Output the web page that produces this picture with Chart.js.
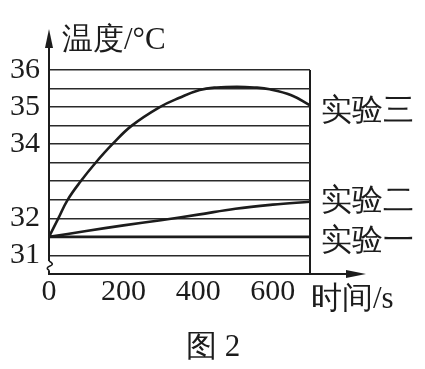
<!DOCTYPE html>
<html>
<head>
<meta charset="utf-8">
<script src="https://cdn.jsdelivr.net/npm/chart.js@4.4.1/dist/chart.umd.min.js"></script>
<style>
  html, body { margin: 0; padding: 0; background: #fff; }
  #fontPrime { position: absolute; left: -999px; top: 0; font: 30px "Liberation Serif", serif; }
</style>
</head>
<body>
<div id="fontPrime">36 200 温度/°C 实验</div>
<canvas id="tempChart" width="425" height="369"></canvas>
<script>
// 实验三: 先快速升温，约 500 s 达到最高，然后回落
const time3 = [0, 25, 50, 85, 125, 170, 222, 297, 350, 404, 450, 504, 550, 592, 650, 700];
const temp3 = [31.5, 32, 32.5, 33, 33.5, 34, 34.5, 35, 35.25, 35.46, 35.53, 35.55, 35.53, 35.48, 35.32, 35.05];
// 实验二: 缓慢上升
const time2 = [0, 100, 200, 300, 400, 500, 600, 700];
const temp2 = [31.5, 31.66, 31.81, 31.95, 32.1, 32.26, 32.37, 32.45];
// 实验一: 温度不变
const time1 = [0, 700];
const temp1 = [31.5, 31.5];

const seriesNames = ['实验三', '实验二', '实验一'];
const xTicks = [0, 200, 400, 600];
const yTickLabels = [31, 32, 34, 35, 36];

const ink = '#1c1c1c';
const numFont = '"Liberation Serif", serif';

const toPoints = (xs, ys) => xs.map((x, i) => ({ x: x, y: ys[i] }));

// 轴箭头、断轴符号和文字
const decorations = {
    id: 'decorations',
    afterDraw(chart) {
        const ctx = chart.ctx;
        const area = chart.chartArea;
        const y = chart.scales.y;
        ctx.save();
        ctx.strokeStyle = ink;
        ctx.fillStyle = ink;
        ctx.lineWidth = 2;

        // y 轴向上延长 + 箭头
        ctx.beginPath();
        ctx.moveTo(area.left, area.top);
        ctx.lineTo(area.left, 44);
        ctx.stroke();
        ctx.beginPath();
        ctx.moveTo(area.left, 29);
        ctx.lineTo(area.left - 4, 48);
        ctx.lineTo(area.left + 4, 48);
        ctx.closePath();
        ctx.fill();

        // x 轴向右延长 + 箭头
        ctx.beginPath();
        ctx.moveTo(area.right, area.bottom);
        ctx.lineTo(350, area.bottom);
        ctx.stroke();
        ctx.beginPath();
        ctx.moveTo(366, area.bottom);
        ctx.lineTo(346, area.bottom - 4);
        ctx.lineTo(346, area.bottom + 4);
        ctx.closePath();
        ctx.fill();

        // 断轴符号
        const b0 = y.getPixelForValue(30.85);
        const b1 = y.getPixelForValue(30.6);
        ctx.fillStyle = '#fff';
        ctx.fillRect(area.left - 3, b0, 6, b1 - b0);
        ctx.beginPath();
        ctx.lineWidth = 1.6;
        ctx.moveTo(area.left, b0);
        ctx.quadraticCurveTo(area.left + 6, b0 + 3, area.left + 1, b0 + 5);
        ctx.quadraticCurveTo(area.left - 4, b0 + 7, area.left, b1);
        ctx.stroke();

        // 文字
        ctx.fillStyle = ink;
        ctx.textBaseline = 'middle';
        ctx.textAlign = 'left';
        ctx.font = '31px ' + numFont;
        ctx.fillText('温度/°C', 62, 41);
        ctx.fillText('时间/s', 311, 300);
        ctx.fillText('图 2', 186, 348);

        const labelShift = [7, 0, 5];
        chart.data.datasets.forEach((ds, i) => {
            const last = ds.data[ds.data.length - 1];
            ctx.fillText(seriesNames[i], 321, y.getPixelForValue(last.y) + labelShift[i]);
        });
        ctx.restore();
    }
};

function buildChart() {
    new Chart(document.getElementById('tempChart'), {
        type: 'line',
        data: {
            datasets: [
                { label: seriesNames[0], data: toPoints(time3, temp3), tension: 0.4 },
                { label: seriesNames[1], data: toPoints(time2, temp2), tension: 0.4 },
                { label: seriesNames[2], data: toPoints(time1, temp1) }
            ]
        },
        options: {
            responsive: false,
            animation: false,
            devicePixelRatio: 1,
            layout: { padding: { left: 0, top: 70, right: 115, bottom: 65 } },
            elements: {
                point: { radius: 0 },
                line: { borderColor: ink, borderWidth: 2.6, fill: false }
            },
            plugins: {
                legend: { display: false },
                tooltip: { enabled: false }
            },
            scales: {
                x: {
                    type: 'linear',
                    min: 0,
                    max: 700,
                    afterBuildTicks: s => { s.ticks = xTicks.concat([700]).map(v => ({ value: v })); },
                    afterFit: s => { s.height = 30; },
                    ticks: {
                        autoSkip: false,
                        maxRotation: 0,
                        padding: 0,
                        color: ink,
                        font: { family: numFont, size: 30 },
                        callback: v => xTicks.includes(v) ? String(v) : ''
                    },
                    grid: {
                        drawTicks: false,
                        lineWidth: 2,
                        color: c => c.tick && c.tick.value === 700 ? ink : 'transparent'
                    },
                    border: { display: true, color: ink, width: 2 }
                },
                y: {
                    min: 30.5,
                    max: 36,
                    afterFit: s => { s.width = 49; },
                    ticks: {
                        stepSize: 0.5,
                        autoSkip: false,
                        padding: 9,
                        color: ink,
                        font: { family: numFont, size: 30 },
                        callback: v => yTickLabels.includes(v) ? String(v) : ''
                    },
                    grid: {
                        drawTicks: false,
                        lineWidth: 1.6,
                        color: c => c.tick && c.tick.value <= 30.5 ? 'transparent' : '#2a2a2a'
                    },
                    border: { display: true, color: ink, width: 2 }
                }
            }
        },
        plugins: [decorations]
    });
}

document.fonts.load('30px "Liberation Serif"', '36温度').then(buildChart, buildChart);
</script>
</body>
</html>
